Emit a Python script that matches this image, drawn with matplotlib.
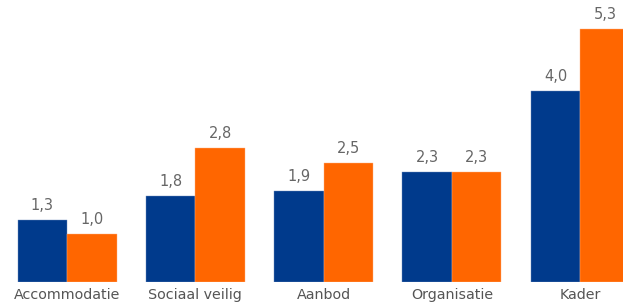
import matplotlib
matplotlib.use("Agg")
import matplotlib.pyplot as plt
import numpy as np

categories = ["Accommodatie", "Sociaal veilig", "Aanbod", "Organisatie", "Kader"]
series_a = [1.3, 1.8, 1.9, 2.3, 4.0]
series_b = [1.0, 2.8, 2.5, 2.3, 5.3]

W, H = 623, 302
fig = plt.figure(figsize=(W / 100, H / 100), dpi=100)
base_px = 282
ax = fig.add_axes([0, (H - base_px) / H, 1, base_px / H])

pitch = 128.3
c0 = 67
bw = 49.5 / pitch
x = np.arange(len(categories))
blue = "#003a8c"
orange = "#ff6600"
ax.bar(x - bw / 2, series_a, width=bw, color=blue, edgecolor="#6f8fc0", linewidth=0.3)
ax.bar(x + bw / 2, series_b, width=bw, color=orange, edgecolor="#ffb080", linewidth=0.3)

ppu = 47.7
ax.set_ylim(0, base_px / ppu)
ax.set_xlim((0 - c0) / pitch, (W - c0) / pitch)

for xs, vals in ((x - bw / 2, series_a), (x + bw / 2, series_b)):
    for xi, v in zip(xs, vals):
        ax.annotate(f"{v:.1f}".replace(".", ","), (xi, v), xytext=(0, 5), textcoords="offset points",
                    ha="center", va="bottom", fontsize=10.5, color="#666666")

ax.set_xticks(x)
ax.set_xticklabels(categories, fontsize=10.3, color="#555555")
ax.tick_params(axis="x", length=0, pad=4)
ax.set_yticks([])
for s in ax.spines.values():
    s.set_visible(False)

fig.savefig("out.png", dpi=100)
